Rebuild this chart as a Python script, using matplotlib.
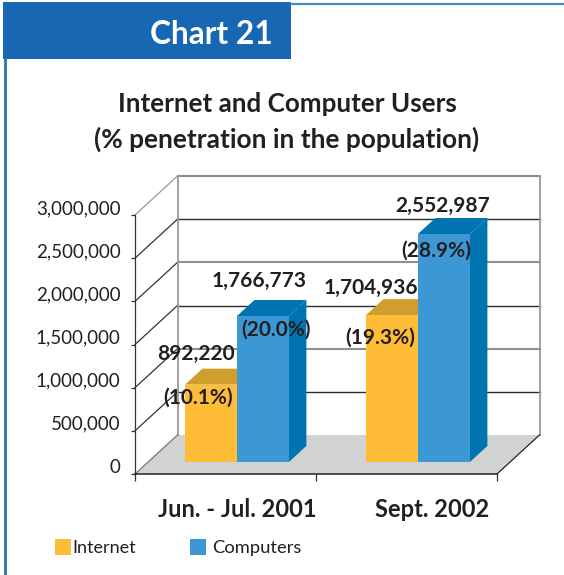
import matplotlib
matplotlib.use("Agg")
import matplotlib.pyplot as plt
from matplotlib.patches import Polygon, Rectangle
from matplotlib.transforms import ScaledTranslation

# ---------- data ----------
categories = ["Jun. - Jul. 2001", "Sept. 2002"]
series_names = ["Internet", "Computers"]
internet_heights = [895000, 1700000]     # as drawn in the picture
computers_heights = [1690000, 2640000]   # as drawn in the picture
internet_users = ["892,220", "1,704,936"]
computers_users = ["1,766,773", "2,552,987"]
internet_pct = ["(10.1%)", "(19.3%)"]
computers_pct = ["(20.0%)", "(28.9%)"]
y_ticks = [0, 500000, 1000000, 1500000, 2000000, 2500000, 3000000]

FONT = "Lato"
INK = "#231f20"
W, H = 564, 575
fig = plt.figure(figsize=(W / 100, H / 100), dpi=100, facecolor="white")
plt.rcParams["font.family"] = FONT


def fx(px):
    return px / W


def fy(py):
    return 1 - py / H


def page_text(px, py, s, **kw):
    kw.setdefault("color", INK)
    kw.setdefault("family", FONT)
    kw.setdefault("ha", "center")
    kw.setdefault("va", "center")
    return fig.text(fx(px), fy(py), s, **kw)


# ---------- page furniture ----------
page = fig.add_axes([0, 0, 1, 1], zorder=0)
page.set_xlim(0, W)
page.set_ylim(H, 0)
page.axis("off")
page.add_patch(Rectangle((3, 2), 288, 57, fc="#1767b3", ec="none"))
page.plot([290, W], [3.5, 3.5], color="#4a86c5", lw=1.6, solid_capstyle="butt")
page.plot([4.5, 4.5], [58, H], color="#2a72b8", lw=2, solid_capstyle="butt")
page_text(211.5, 34, "Chart 21", color="white", fontsize=22.8, fontweight="bold")
page_text(287, 104, "Internet and Computer Users", fontsize=18.7, fontweight="bold")
page_text(287, 139, "(% penetration in the population)", fontsize=18.9, fontweight="bold")

# ---------- chart axes = front plane of the 3D box ----------
L, R, T, B = 135, 497, 215, 474
ax = fig.add_axes([fx(L), fy(B), (R - L) / W, (B - T) / H], zorder=1)
ax.patch.set_alpha(0)
ax.set_xlim(0, 2)
ax.set_ylim(0, 3000000)
for s in ("top", "right"):
    ax.spines[s].set_visible(False)
ax.spines["left"].set_color("#333333")
ax.spines["left"].set_linewidth(0.9)
ax.spines["bottom"].set_color("#222222")
ax.spines["bottom"].set_linewidth(1.1)

DX = 42.5 / ((R - L) / 2)                 # depth shift, category units
DV = 39 * 3000000 / (B - T)               # depth shift, value units


def proj(x, v, d):
    return (x + d * DX, v + d * DV)


# floor
ax.add_patch(Polygon([proj(0, 0, 0), proj(2, 0, 0), proj(2, 0, 1), proj(0, 0, 1)],
                     fc="#d1d2d4", ec="none", clip_on=False, zorder=1))
ax.plot(*zip(proj(2, 0, 0), proj(2, 0, 1)), color="#222222", lw=0.9, clip_on=False, zorder=2)
ax.plot(*zip(proj(0, 0, 0), proj(0, 0, 1)), color="#777777", lw=0.9, clip_on=False, zorder=2)

# walls and grid
for i, v in enumerate(y_ticks[1:], start=1):
    col, lw = ("#8f8f8f", 1.5) if i % 2 == 0 else ("#2b2b2b", 1.0)
    ax.plot(*zip(proj(0, v, 1), proj(2, v, 1)), color=col, lw=lw, clip_on=False, zorder=1.5)
    ax.plot(*zip(proj(0, v, 0), proj(0, v, 1)),
            color="#999999" if v == 3000000 else "#333333", lw=0.9, clip_on=False, zorder=1.5)
ax.plot(*zip(proj(0, 0, 1), proj(0, 3000000, 1)), color="#999999", lw=1.3, clip_on=False, zorder=1.5)
ax.plot(*zip(proj(2, 0, 1), proj(2, 3000000, 1)), color="#999999", lw=1.3, clip_on=False, zorder=1.5)

# bars
BAR_W = 52 / ((R - L) / 2)
D0, D1 = 0.31, 0.72
CENTERS = [0.5, 1.5]
BAR_NUDGE = -1.7 / ((R - L) / 2)


def bar3d(x0, h, front, side_top_side, top=None):
    top = top or side_top_side
    x1 = x0 + BAR_W
    ax.add_patch(Polygon([proj(x0, h, D0), proj(x1, h, D0), proj(x1, h, D1), proj(x0, h, D1)],
                         fc=top, ec="none", clip_on=False, zorder=3))
    ax.add_patch(Polygon([proj(x1, 0, D0), proj(x1, h, D0), proj(x1, h, D1), proj(x1, 0, D1)],
                         fc=side_top_side, ec="none", clip_on=False, zorder=3))
    ax.add_patch(Polygon([proj(x0, 0, D0), proj(x1, 0, D0), proj(x1, h, D0), proj(x0, h, D0)],
                         fc=front, ec="none", clip_on=False, zorder=3.2))


for c, hi, hc in zip(CENTERS, internet_heights, computers_heights):
    bar3d(c + BAR_NUDGE - BAR_W, hi, "#ffbc37", "#cf9e2f")
    bar3d(c + BAR_NUDGE, hc, "#3c98d4", "#0074b0")

# axis ticks and labels
ax.set_yticks(y_ticks)
ax.set_yticklabels([f"{v:,}" for v in y_ticks], fontsize=13.5, color=INK, family=FONT)
ax.tick_params(axis="y", length=3, width=0.9, color="#333333", pad=7.5)
shift_y = ScaledTranslation(0, 8 / 100, fig.dpi_scale_trans)
for lab in ax.get_yticklabels():
    lab.set_transform(lab.get_transform() + shift_y)

ax.set_xticks([0, 1, 2])
ax.set_xticklabels(["", "", ""])
ax.tick_params(axis="x", which="major", length=5, width=0.9, color="#333333")
ax.set_xticks(CENTERS, minor=True)
ax.set_xticklabels(categories, minor=True, fontsize=17, fontweight="bold", color=INK, family=FONT)
ax.tick_params(axis="x", which="minor", length=0, pad=17.5)
for lab, dx_px in zip(ax.get_xticklabels(minor=True), [12, 26]):
    lab.set_transform(lab.get_transform() + ScaledTranslation(dx_px / 100, 0, fig.dpi_scale_trans))

# value labels
overlay = [
    (196, 354, internet_users[0]), (198, 398, internet_pct[0]),
    (259, 281, computers_users[0]), (276, 330, computers_pct[0]),
    (371, 288, internet_users[1]), (380, 338, internet_pct[1]),
    (443, 206, computers_users[1]), (436, 251, computers_pct[1]),
]
for px, py, s in overlay:
    page_text(px, py, s, fontsize=15, fontweight="bold", zorder=10)

# legend
legend_colors = ["#ffbc37", "#3c98d4"]
page.add_patch(Rectangle((55, 539), 16, 16, fc=legend_colors[0], ec="none"))
page.add_patch(Rectangle((190, 539), 16, 16, fc=legend_colors[1], ec="none"))
page_text(72, 548, series_names[0], ha="left", fontsize=13)
page_text(212.5, 548, series_names[1], ha="left", fontsize=13.2)

fig.savefig("out.png", dpi=100, facecolor="white")
